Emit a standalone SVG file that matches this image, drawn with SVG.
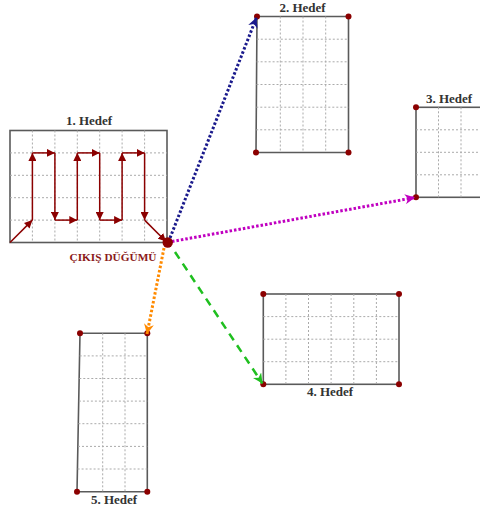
<svg xmlns="http://www.w3.org/2000/svg" width="480" height="509" viewBox="0 0 480 509">
<style>
.frame{fill:#fff;stroke:#5a5a5a;stroke-width:1.6}
.grid{stroke:#aaa;stroke-width:1;stroke-dasharray:2,2;fill:none}
.lbl{font-family:"Liberation Serif",serif;font-weight:bold;font-size:13px;fill:#333;text-anchor:middle}
.corner{fill:#8b0000}
.route{stroke:#8b0000;stroke-width:1.5;fill:none;marker-end:url(#ar)}
</style>
<defs>
<marker id="ar" viewBox="0 0 10 10" refX="10" refY="5" markerWidth="8" markerHeight="8" markerUnits="userSpaceOnUse" orient="auto"><path d="M0,0 L10,5 L0,10 Z" fill="#8b0000"/></marker>
<marker id="an" viewBox="0 0 10 10" refX="10" refY="5" markerWidth="10" markerHeight="10" markerUnits="userSpaceOnUse" orient="auto"><path d="M0,0 L10,5 L0,10 L3,5 Z" fill="#1a1a8c"/></marker>
<marker id="am" viewBox="0 0 10 10" refX="10" refY="5" markerWidth="10" markerHeight="10" markerUnits="userSpaceOnUse" orient="auto"><path d="M0,0 L10,5 L0,10 L3,5 Z" fill="#c000c0"/></marker>
<marker id="ag" viewBox="0 0 10 10" refX="10" refY="5" markerWidth="10" markerHeight="10" markerUnits="userSpaceOnUse" orient="auto"><path d="M0,0 L10,5 L0,10 L3,5 Z" fill="#1fbf1f"/></marker>
<marker id="ao" viewBox="0 0 10 10" refX="10" refY="5" markerWidth="10" markerHeight="10" markerUnits="userSpaceOnUse" orient="auto"><path d="M0,0 L10,5 L0,10 L3,5 Z" fill="#ff8a00"/></marker>
</defs>

<g id="hedef1">
<rect class="frame" x="10" y="130.5" width="157" height="112"/>
<path class="grid" d="M32.4,130.5V242.5M54.9,130.5V242.5M77.3,130.5V242.5M99.7,130.5V242.5M122.1,130.5V242.5M144.6,130.5V242.5M10,152.9H167M10,175.3H167M10,197.7H167M10,220.1H167"/>
<text class="lbl" x="89" y="125">1. Hedef</text>
<line class="route" x1="10" y1="242.5" x2="32.4" y2="220.1"/>
<line class="route" x1="32.4" y1="220.1" x2="32.4" y2="152.9"/>
<line class="route" x1="32.4" y1="152.9" x2="54.9" y2="152.9"/>
<line class="route" x1="54.9" y1="152.9" x2="54.9" y2="220.1"/>
<line class="route" x1="54.9" y1="220.1" x2="77.3" y2="220.1"/>
<line class="route" x1="77.3" y1="220.1" x2="77.3" y2="152.9"/>
<line class="route" x1="77.3" y1="152.9" x2="99.7" y2="152.9"/>
<line class="route" x1="99.7" y1="152.9" x2="99.7" y2="220.1"/>
<line class="route" x1="99.7" y1="220.1" x2="122.1" y2="220.1"/>
<line class="route" x1="122.1" y1="220.1" x2="122.1" y2="152.9"/>
<line class="route" x1="122.1" y1="152.9" x2="144.6" y2="152.9"/>
<line class="route" x1="144.6" y1="152.9" x2="144.6" y2="220.1"/>
<line class="route" x1="144.6" y1="220.1" x2="166" y2="241.5"/>
</g>

<g id="hedef2">
<path class="frame" d="M257,16.5H348.5V152.5H256Z"/>
<path class="grid" d="M280.3,16.5V152.5M303,16.5V152.5M325.7,16.5V152.5M256.8,39.2H348.5M256.6,61.8H348.5M256.5,84.5H348.5M256.3,107.2H348.5M256.2,129.8H348.5"/>
<circle class="corner" cx="257" cy="16.5" r="3"/>
<circle class="corner" cx="348.5" cy="16.5" r="3"/>
<circle class="corner" cx="256" cy="152.5" r="3"/>
<circle class="corner" cx="348.5" cy="152.5" r="3"/>
<text class="lbl" x="302.5" y="12">2. Hedef</text>
</g>

<g id="hedef3">
<rect class="frame" x="416" y="107.3" width="70" height="90"/>
<path class="grid" d="M438.5,107.3V197.3M461,107.3V197.3M416,129.8H486M416,152.3H486M416,174.8H486"/>
<circle class="corner" cx="416" cy="107.3" r="3"/>
<circle class="corner" cx="416" cy="197.3" r="3"/>
<text class="lbl" x="449" y="102.5">3. Hedef</text>
</g>

<g id="hedef4">
<rect class="frame" x="263.3" y="294" width="135.7" height="90.3"/>
<path class="grid" d="M285.9,294V384.3M308.5,294V384.3M331.1,294V384.3M353.8,294V384.3M376.4,294V384.3M263.3,316.6H399M263.3,339.2H399M263.3,361.7H399"/>
<circle class="corner" cx="263.3" cy="294" r="3"/>
<circle class="corner" cx="399" cy="294" r="3"/>
<circle class="corner" cx="263.3" cy="384.3" r="3"/>
<circle class="corner" cx="399" cy="384.3" r="3"/>
<text class="lbl" x="330" y="395.5">4. Hedef</text>
</g>

<g id="hedef5">
<path class="frame" d="M80,333.3H147.3V491.7H77Z"/>
<path class="grid" d="M102.7,333.3V491.7M125,333.3V491.7M79.7,355.9H147.3M79.3,378.5H147.3M78.9,401.1H147.3M78.4,423.7H147.3M78,446.4H147.3M77.6,469H147.3"/>
<circle class="corner" cx="80" cy="333.3" r="3"/>
<circle class="corner" cx="147.3" cy="333.3" r="3"/>
<circle class="corner" cx="77" cy="491.7" r="3"/>
<circle class="corner" cx="147.3" cy="491.7" r="3"/>
<text class="lbl" x="114" y="504">5. Hedef</text>
</g>

<g id="connectors" fill="none">
<line x1="170" y1="238" x2="256.5" y2="17.5" stroke="#1a1a8c" stroke-width="3" stroke-dasharray="2.5,2" marker-end="url(#an)"/>
<line x1="172" y1="241.5" x2="415" y2="197.5" stroke="#c000c0" stroke-width="3" stroke-dasharray="2.5,2" marker-end="url(#am)"/>
<line x1="175" y1="252" x2="262.5" y2="383.5" stroke="#1fbf1f" stroke-width="2.5" stroke-dasharray="8,6" marker-end="url(#ag)"/>
<line x1="164" y1="248" x2="147" y2="334" stroke="#ff8a00" stroke-width="3" stroke-dasharray="2.5,2" marker-end="url(#ao)"/>
</g>

<g id="cikis">
<circle cx="167.7" cy="242.5" r="5.2" fill="#8b0000"/>
<text x="113" y="260.5" font-family="Liberation Serif,serif" font-weight="bold" font-size="11.3" fill="#8b1a1a" text-anchor="middle">ÇIKIŞ DÜĞÜMÜ</text>
</g>
</svg>
